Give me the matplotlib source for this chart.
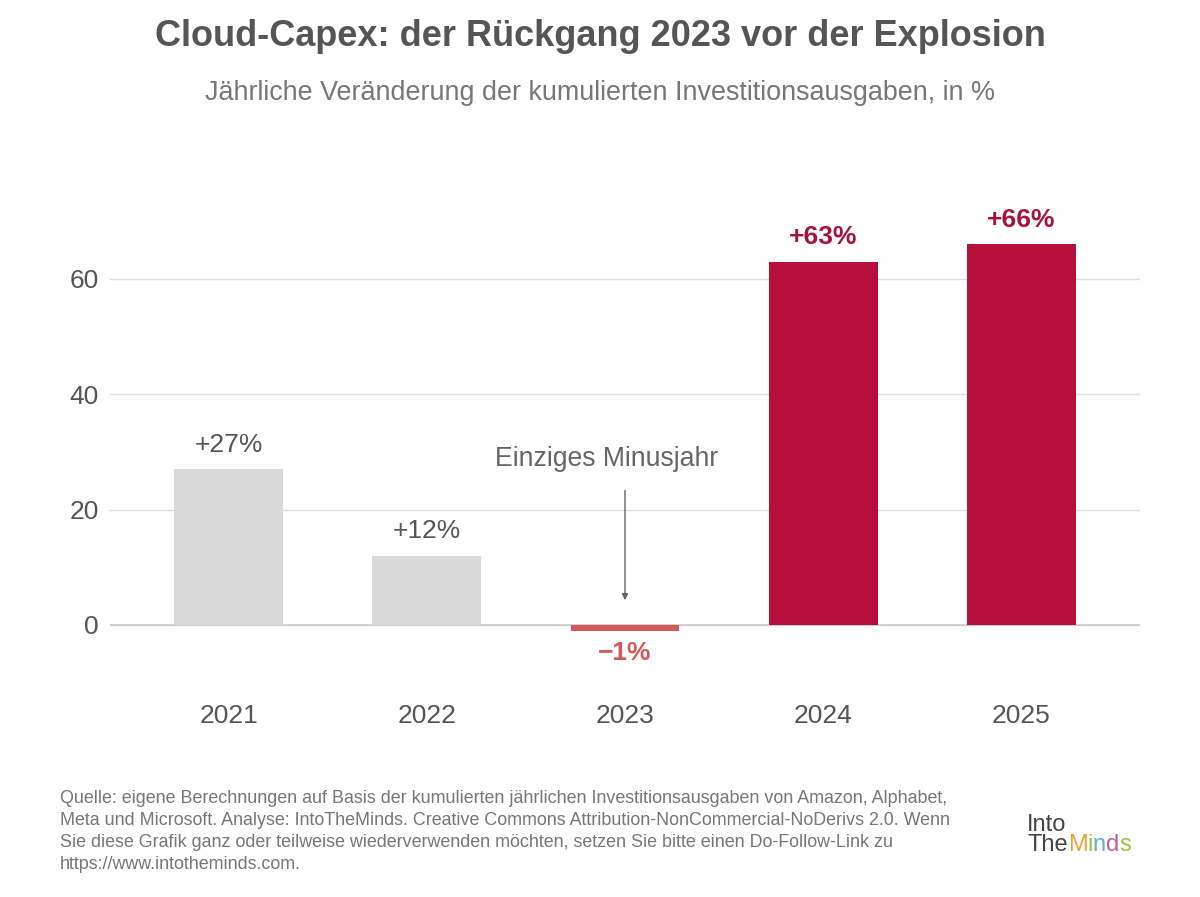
import matplotlib
matplotlib.use("Agg")
import matplotlib.pyplot as plt

years = ["2021", "2022", "2023", "2024", "2025"]
values = [27, 12, -1, 63, 66]
labels = ["+27%", "+12%", "\u22121%", "+63%", "+66%"]
colors = ["#d9d9d9", "#d9d9d9", "#d35a5a", "#b50f3b", "#b50f3b"]
label_colors = ["#555555", "#555555", "#d35a5a", "#a8123a", "#a8123a"]
bold = [False, False, True, True, True]

plt.rcParams['font.family'] = ['Liberation Sans', 'DejaVu Sans']
fig = plt.figure(figsize=(12, 8.97), dpi=100)
ax = fig.add_axes([110/1200, 1-671/897, 1030/1200, (671-192.5)/897])
x = list(range(len(years)))
ax.bar(x, values, width=0.55, color=colors, zorder=3)
ax.set_xlim(-0.6, 4.6)
ax.set_ylim(-8, 75)
ax.set_yticks([0, 20, 40, 60])
ax.grid(axis='y', color='#dddddd', linewidth=1, zorder=0)
ax.axhline(0, color='#cccccc', linewidth=1.2, zorder=2)
for s in ax.spines.values():
    s.set_visible(False)
ax.tick_params(length=0, labelsize=19, colors='#555555')
ax.tick_params(axis='y', pad=8)
ax.set_xticks(x)
ax.set_xticklabels(years)
ax.tick_params(axis='x', pad=24)
for xi, v, l, c, b in zip(x, values, labels, label_colors, bold):
    if v >= 0:
        ax.text(xi, v + 2.2, l, ha='center', va='bottom', fontsize=19, color=c,
                fontweight='bold' if b else 'normal')
    else:
        ax.text(xi, v - 1.8, l, ha='center', va='top', fontsize=19, color=c,
                fontweight='bold' if b else 'normal')
ax.text(1.905, 26.5, "Einziges Minusjahr", ha='center', va='bottom', fontsize=19.2, color='#666666')
ax.annotate("", xy=(2, 3.8), xytext=(2, 23.8),
            arrowprops=dict(arrowstyle='-|>', color='#666666', lw=1, mutation_scale=9))

fig.text(0.5, 1-36/897, "Cloud-Capex: der Rückgang 2023 vor der Explosion", ha='center', va='center',
         fontsize=26, fontweight='bold', color='#555555')
fig.text(0.5, 1-93/897, "Jährliche Veränderung der kumulierten Investitionsausgaben, in %", ha='center',
         va='center', fontsize=19.4, color='#777777')
foot = ("Quelle: eigene Berechnungen auf Basis der kumulierten jährlichen Investitionsausgaben von Amazon, Alphabet,\n"
        "Meta und Microsoft. Analyse: IntoTheMinds. Creative Commons Attribution-NonCommercial-NoDerivs 2.0. Wenn\n"
        "Sie diese Grafik ganz oder teilweise wiederverwenden möchten, setzen Sie bitte einen Do-Follow-Link zu\n"
        "https://www.intotheminds.com.")
fig.text(60/1200, 1-790/897, foot, ha='left', va='top', fontsize=12.9, color='#777777', linespacing=1.38)

fig.canvas.draw()
r = fig.canvas.get_renderer()
fig.text(1027/1200, 1-825/897, "Into", ha='left', va='center', fontsize=17, color='#444444')
xpos = 1027/1200
for ch, col in [("The", '#444444'), ("M", '#e8a23c'), ("i", '#9bc53d'), ("n", '#5bb0d8'),
                ("d", '#c55aa5'), ("s", '#9bc53d')]:
    t = fig.text(xpos, 1-845/897, ch, ha='left', va='center', fontsize=17, color=col)
    xpos += t.get_window_extent(renderer=r).width / 1200
fig.savefig("out.png", dpi=100)
